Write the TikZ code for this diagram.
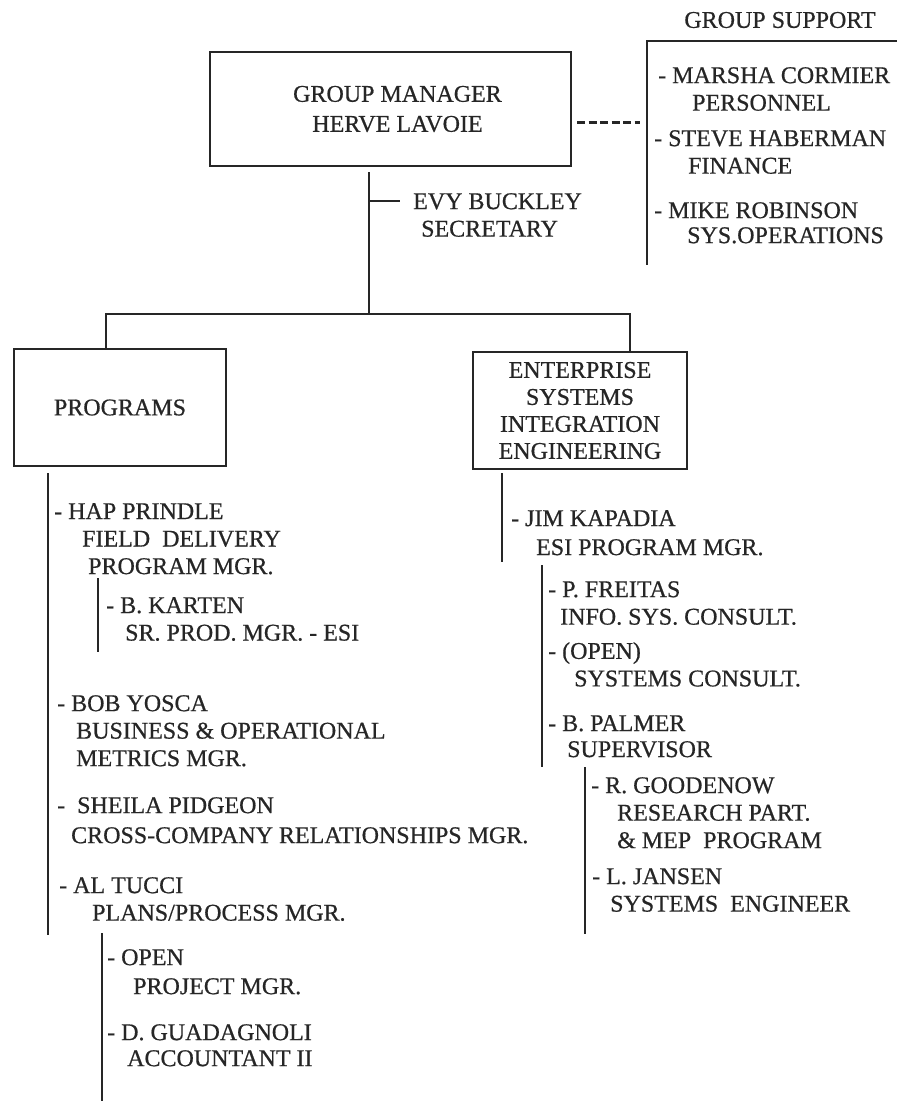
\documentclass[tikz,border=0pt]{standalone}
\usepackage{fontspec}
\setmainfont{Liberation Serif}[FakeBold=0.6]
\usetikzlibrary{positioning,calc}
\definecolor{Ink}{HTML}{262626}
\definecolor{Paper}{HTML}{FFFFFF}

\begin{document}
\begin{tikzpicture}[x=1pt, y=-1pt,
  every node/.style={font=\fontsize{24}{27.5}\selectfont, text=Ink},
  unitbox/.style={draw=Ink, line width=2.3pt, align=center, inner sep=0pt},
  person/.style={anchor=north west, inner sep=0pt, align=left},
  orgline/.style={draw=Ink, line width=1.7pt},
  liaison/.style={draw=Ink, line width=3pt, dash pattern=on 8pt off 3.5pt}]
\fill[Paper] (0,0) rectangle (897,1101);
\useasboundingbox (0,0) rectangle (897,1101);

% top of the chart
\node[unitbox, minimum width=361pt, minimum height=114pt] (mgr) at (390.5,109) {\hspace*{14pt}GROUP MANAGER\\[2.5pt]\hspace*{14pt}HERVE LAVOIE};
\node[person] (sec) at (413,193) {EVY BUCKLEY\\\hspace*{8pt}SECRETARY};
\coordinate (trunktop) at (369,172);
\coordinate (trunk) at (369,314);
\coordinate (secjoin) at (369,201);
\coordinate (sectick) at (400,201);
\draw[orgline] (trunktop) -- (trunk);
\draw[orgline] (secjoin) -- (sectick);

% group support
\node (suptitle) at (780,20) {GROUP SUPPORT};
\coordinate (suptop) at (647,41);
\coordinate (supend) at (897,41);
\coordinate (supbot) at (647,265);
\draw[orgline] (supend) -- (suptop) -- (supbot);
\draw[liaison] ($(mgr.east)+(5,13)$) -- ($(suptop |- mgr.east)+(-7,13)$);
\node[person] (marsha) at (658,67) {- MARSHA CORMIER\\\hspace*{34pt}PERSONNEL};
\node[person] (steve) at (654,130) {- STEVE HABERMAN\\\hspace*{34pt}FINANCE};
\node[person] (mike) at (654,202) {- MIKE ROBINSON\\[-2.5pt]\hspace*{33pt}SYS.OPERATIONS};

% the two units
\node[unitbox, minimum width=212pt, minimum height=117pt] (progs) at (120,407.5) {PROGRAMS};
\node[unitbox, minimum width=214pt, minimum height=117pt] (esie) at (580,410.5) {ENTERPRISE\\[-0.5pt]SYSTEMS\\[-0.5pt]INTEGRATION\\[-0.5pt]ENGINEERING};
\coordinate (bl) at (106,314);
\coordinate (br) at (630,314);
\draw[orgline] (bl |- progs.north) -- (bl) -- (br) -- (br |- esie.north);

% programs
\coordinate (pl) at (48,935);
\draw[orgline] ([yshift=-6pt]progs.south -| pl) -- (pl);
\node[person] (hap) at (54,503) {- HAP PRINDLE\\\hspace*{28pt}FIELD\ \ DELIVERY\\\hspace*{34pt}PROGRAM MGR.};
\coordinate (hapA) at (98,578);
\coordinate (hapB) at (98,652);
\draw[orgline] (hapA) -- (hapB);
\node[person] (karten) at (106,597) {- B. KARTEN\\\hspace*{19pt}SR. PROD. MGR. - ESI};
\node[person] (bob) at (57,695) {- BOB YOSCA\\\hspace*{19pt}BUSINESS \& OPERATIONAL\\\hspace*{19pt}METRICS MGR.};
\node[person] (sheila) at (57,797) {- \ SHEILA PIDGEON\\[2.5pt]\hspace*{14pt}CROSS-COMPANY RELATIONSHIPS MGR.};
\node[person] (tucci) at (59,877) {- AL TUCCI\\\hspace*{33pt}PLANS/PROCESS MGR.};
\coordinate (tucciA) at (102,933);
\coordinate (tucciB) at (102,1101);
\draw[orgline] (tucciA) -- (tucciB);
\node[person] (openpm) at (107,949) {- OPEN\\[1.5pt]\hspace*{26pt}PROJECT MGR.};
\node[person] (guad) at (107,1024) {- D. GUADAGNOLI\\[-1.5pt]\hspace*{20pt}ACCOUNTANT II};

% enterprise systems integration engineering
\coordinate (el) at (502,562);
\draw[orgline] ([yshift=-3pt]esie.south -| el) -- (el);
\node[person] (jim) at (511,510) {- JIM KAPADIA\\[1.5pt]\hspace*{25pt}ESI PROGRAM MGR.};
\coordinate (jimA) at (542,565);
\coordinate (jimB) at (542,767);
\draw[orgline] (jimA) -- (jimB);
\node[person] (freitas) at (548,581) {- P. FREITAS\\\hspace*{12pt}INFO. SYS. CONSULT.};
\node[person] (openconsult) at (548,642) {- (OPEN)\\\hspace*{26pt}SYSTEMS CONSULT.};
\node[person] (palmer) at (548,715) {- B. PALMER\\[-1.5pt]\hspace*{19pt}SUPERVISOR};
\coordinate (palmerA) at (585,767);
\coordinate (palmerB) at (585,934);
\draw[orgline] (palmerA) -- (palmerB);
\node[person] (goodenow) at (591,777) {- R. GOODENOW\\\hspace*{26pt}RESEARCH PART.\\\hspace*{26pt}\& MEP\ \ PROGRAM};
\node[person] (jansen) at (592,868) {- L. JANSEN\\\hspace*{18pt}SYSTEMS\ \ ENGINEER};
\end{tikzpicture}
\end{document}
